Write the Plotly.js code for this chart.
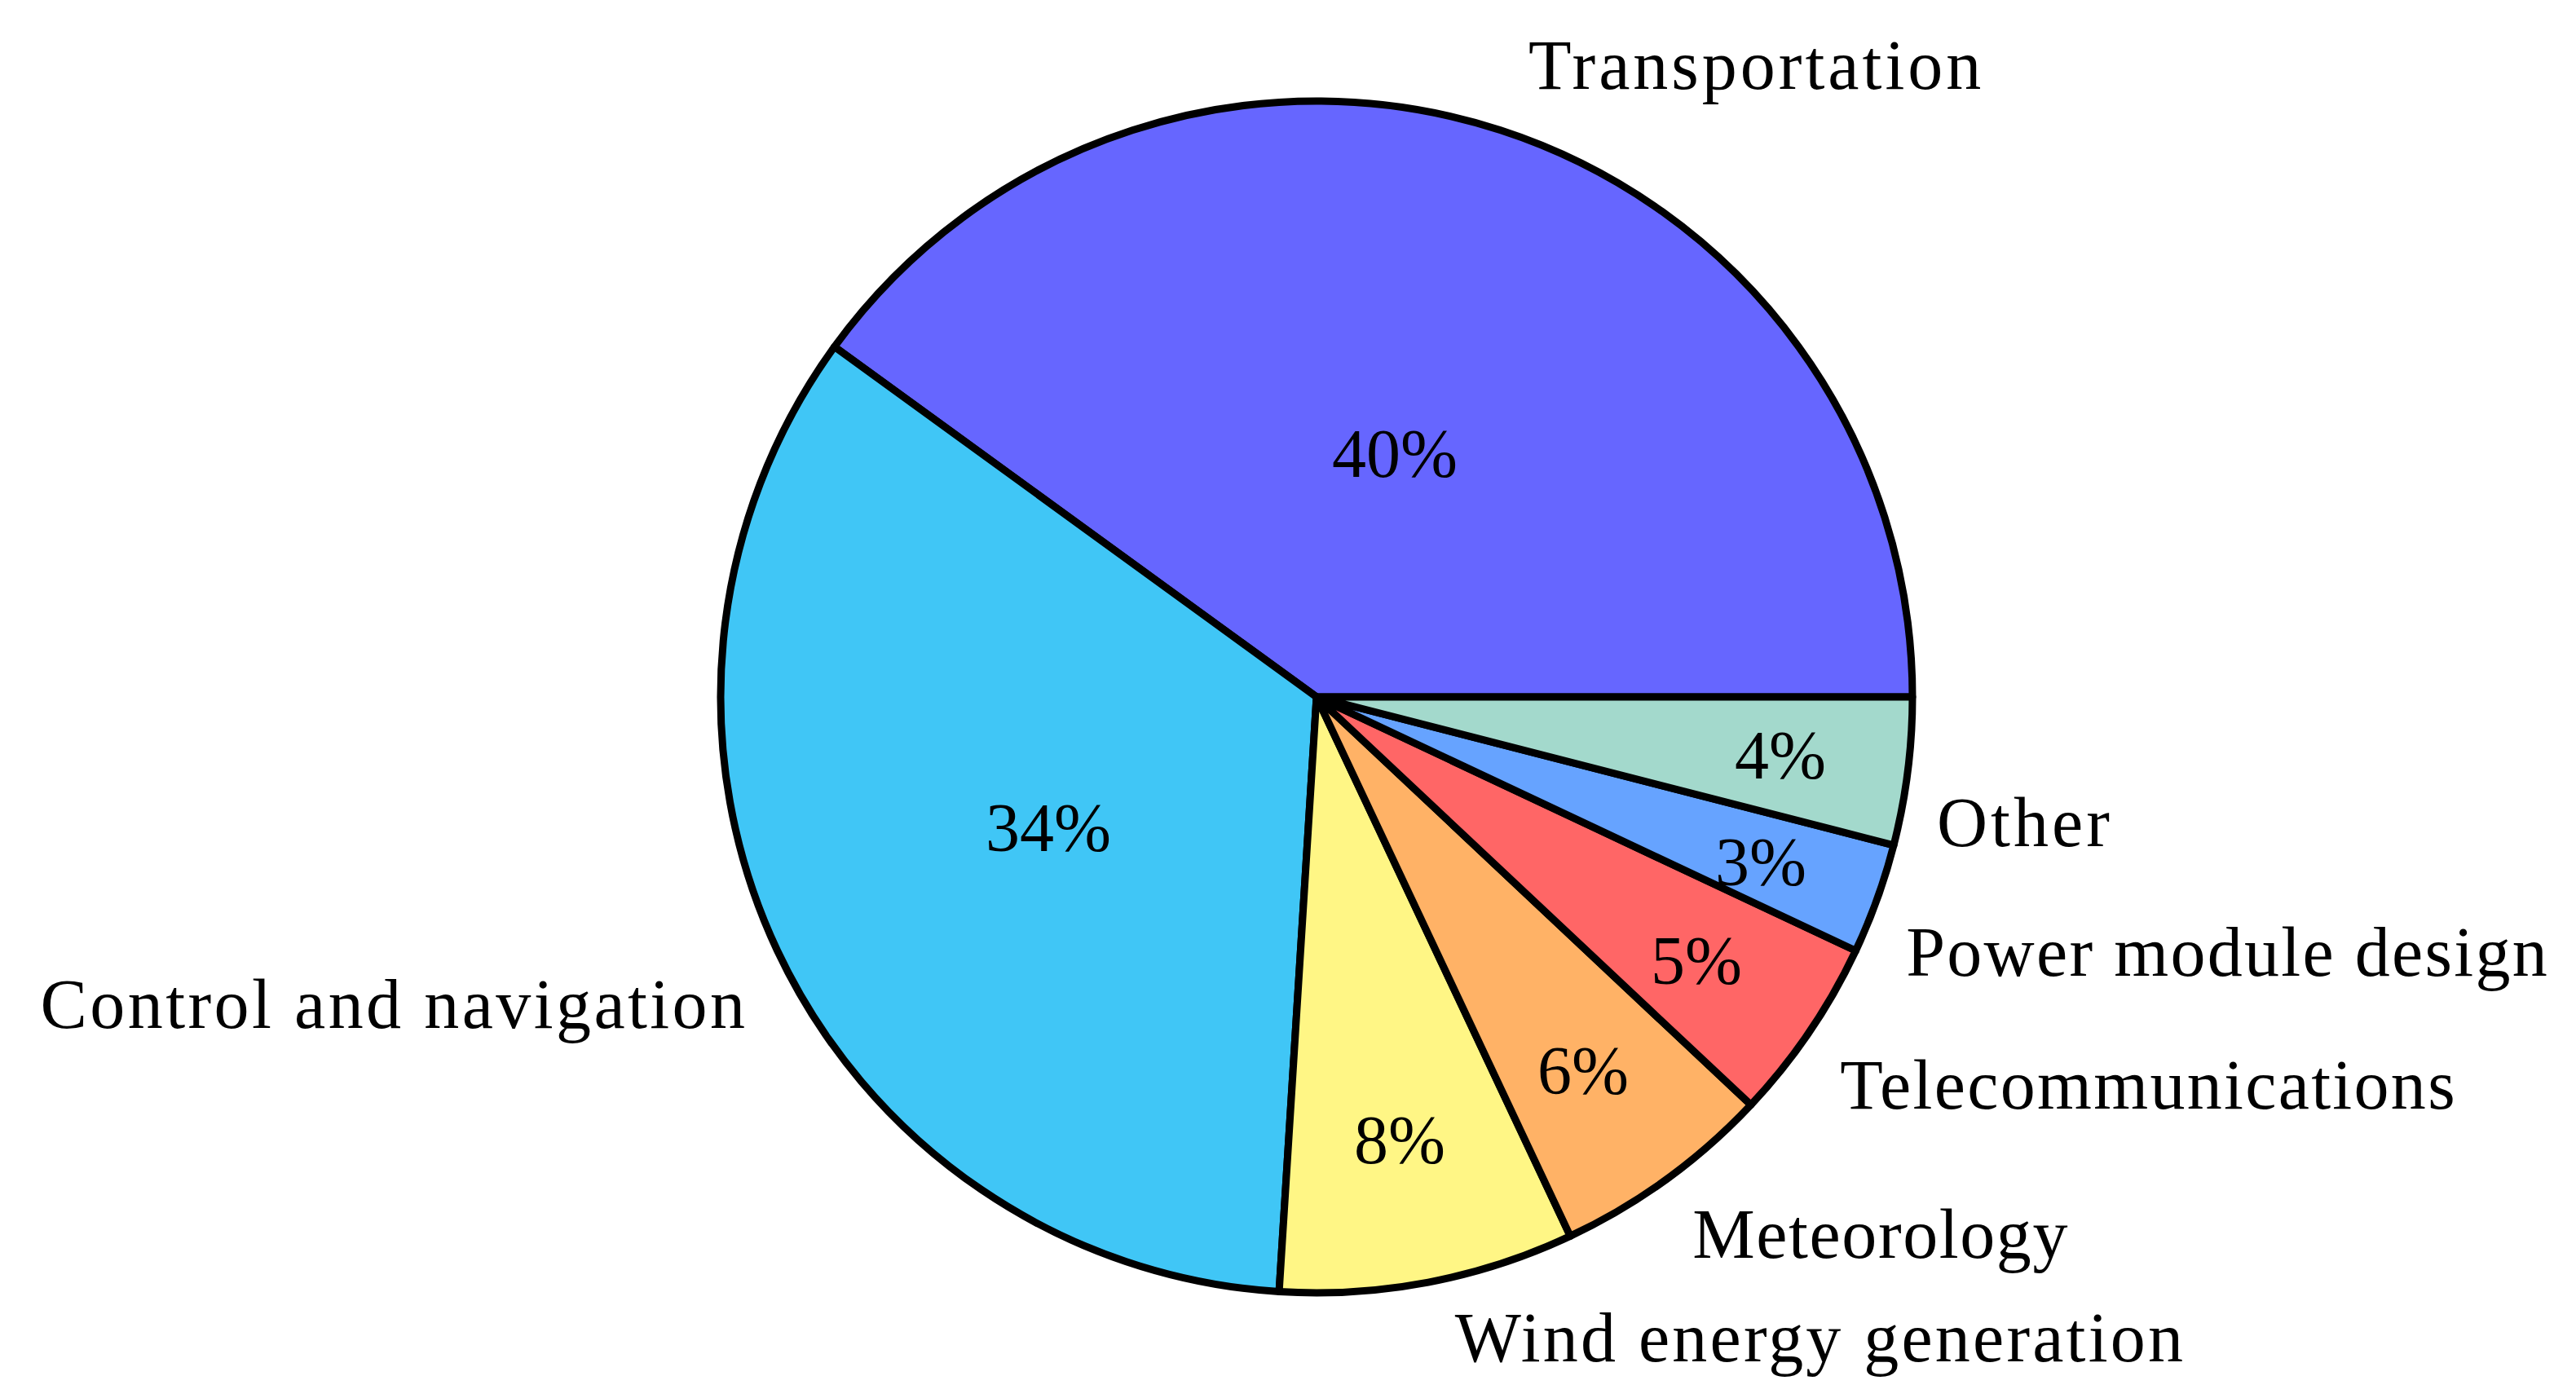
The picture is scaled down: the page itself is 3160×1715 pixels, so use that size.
<!DOCTYPE html>
<html>
<head>
<meta charset="utf-8">
<script src="https://cdn.plot.ly/plotly-3.0.1.min.js"></script>
<style>html,body{margin:0;padding:0;background:#fff}#chart{width:3160px;height:1715px}</style>
</head>
<body>
<div id="chart"></div>
<script>
const categories = ["Transportation","Control and navigation","Wind energy generation","Meteorology","Telecommunications","Power module design","Other"];
const shares = [40,34,8,6,5,3,4];
const sliceColors = ["#6666FF","#40C6F6","#FFF685","#FFB266","#FF6666","#66A3FF","#A3D9CC"];

const W = 3160, H = 1715;
const centerX = 1615, centerY = 855, radius = 731;
const S = 2.015; // reference-thumbnail px to page px
const labelPlaces = [[1069,39.5],[240,611.5],[1108,814.5],[1145,751.5],[1308,660.5],[1356,579.5],[1233,500.5]];
const pctPlaces = [[849,276],[638,504],[852,694],[964,652],[1033,585],[1072,525],[1084,460]];
const labelTracking = [4,3.4,3.2,1.6,2.3,2.3,4];
const fontFamily = '"Liberation Serif", serif';

const css = document.createElement('style');
css.textContent = labelTracking.map((t,i)=>`.annotation[data-index="${i}"] text{letter-spacing:${t}px}`).join('\n');
document.head.appendChild(css);

function note(text, place, size){
  return {text:text, xref:'paper', yref:'paper', x:place[0]*S/W, y:1-place[1]*S/H,
    xanchor:'center', yanchor:'middle', showarrow:false,
    font:{family:fontFamily, size:size, color:'#000'}};
}

const trace = {
  type:'pie', labels:categories, values:shares, sort:false,
  direction:'counterclockwise', rotation:90-shares[0]*3.6, textinfo:'none', hoverinfo:'skip',
  marker:{colors:sliceColors, line:{color:'#000', width:9}},
  domain:{x:[(centerX-radius)/W,(centerX+radius)/W], y:[1-(centerY+radius)/H,1-(centerY-radius)/H]}
};
const layout = {
  width:W, height:H, margin:{l:0,r:0,t:0,b:0}, showlegend:false,
  paper_bgcolor:'#fff', plot_bgcolor:'#fff',
  annotations: categories.map((c,i)=>note(c,labelPlaces[i],86))
    .concat(shares.map((v,i)=>note(v+'%',pctPlaces[i],84)))
};
Plotly.newPlot('chart',[trace],layout,{displayModeBar:false,staticPlot:true});
</script>
</body>
</html>
